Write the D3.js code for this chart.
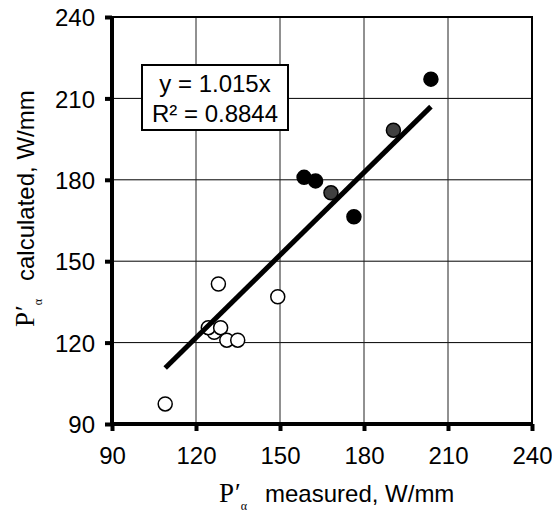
<!DOCTYPE html>
<html>
<head>
<meta charset="utf-8">
<script src="https://cdn.jsdelivr.net/npm/d3@7"></script>
<style>
  body { margin: 0; background: #fff; }
  svg { display: block; }
  .tick-text { font-family: Arial, "Liberation Sans", sans-serif; font-size: 24px; fill: #000; }
  .title-text { font-family: Arial, "Liberation Sans", sans-serif; font-size: 24px; fill: #000; }
  .serif-text { font-family: "Times New Roman", "Liberation Serif", serif; fill: #000; }
</style>
</head>
<body>
<svg id="chart" width="552" height="515"></svg>
<script>
// tick values for both axes
const xTicks = [90, 120, 150, 180, 210, 240];
const yTicks = [90, 120, 150, 180, 210, 240];

// open circles (measured, calculated)
const openPoints = [
    [126.5, 123.8],
    [109.0, 97.4],
    [124.4, 125.5],
    [128.8, 125.5],
    [131.0, 120.9],
    [134.9, 120.9],
    [128.0, 141.6],
    [149.2, 136.9]
];
// dark grey filled circles
const greyPoints = [
    [168.2, 175.2],
    [190.5, 198.3]
];
// black filled circles
const blackPoints = [
    [158.6, 180.9],
    [162.7, 179.6],
    [176.4, 166.4],
    [203.9, 217.1]
];

const slope = 1.015;
const eqLines = ["y = 1.015x", "R\u00b2 = 0.8844"];

function drawChart(svgId) {
    const svg = d3.select("#" + svgId);
    const margin = { left: 112, top: 17, right: 20, bottom: 91 };
    const width = 552 - margin.left - margin.right;
    const height = 515 - margin.top - margin.bottom;

    const x = d3.scaleLinear().domain([90, 240]).range([0, width]);
    const y = d3.scaleLinear().domain([90, 240]).range([height, 0]);

    const g = svg.append("g")
        .attr("transform", `translate(${margin.left},${margin.top})`);

    // grid
    g.selectAll(".hgrid")
        .data(yTicks.filter(d => d > 90 && d < 240))
        .enter().append("line")
        .attr("x1", 0).attr("x2", width)
        .attr("y1", d => y(d)).attr("y2", d => y(d))
        .attr("stroke", "#000").attr("stroke-width", 1);

    g.selectAll(".vgrid")
        .data(xTicks.filter(d => d > 90 && d < 240))
        .enter().append("line")
        .attr("x1", d => x(d)).attr("x2", d => x(d))
        .attr("y1", 0).attr("y2", height)
        .attr("stroke", "#222").attr("stroke-width", 1);

    // top and right border (thin)
    g.append("path")
        .attr("d", `M0,0H${width}V${height}`)
        .attr("fill", "none")
        .attr("stroke", "#000")
        .attr("stroke-width", 2);

    // axes
    const xAxis = g.append("g")
        .attr("transform", `translate(0,${height})`)
        .call(d3.axisBottom(x).tickValues(xTicks).tickSize(7).tickPadding(10));
    const yAxis = g.append("g")
        .call(d3.axisLeft(y).tickValues(yTicks).tickSize(7).tickPadding(10));

    [xAxis, yAxis].forEach(function(a) {
        a.select(".domain").remove();
        a.selectAll(".tick line").attr("stroke", "#000").attr("stroke-width", 4);
        a.selectAll(".tick text").attr("class", "tick-text").attr("font-size", null).attr("font-family", null);
    });
    xAxis.selectAll(".tick text").attr("dy", "0.95em");
    yAxis.selectAll(".tick text").attr("dy", "0.36em").attr("x", -17);

    g.append("line")
        .attr("x1", 0).attr("x2", width).attr("y1", height).attr("y2", height)
        .attr("stroke", "#000").attr("stroke-width", 4);
    g.append("line")
        .attr("x1", 0).attr("x2", 0).attr("y1", 0).attr("y2", height + 2)
        .attr("stroke", "#000").attr("stroke-width", 4);

    // points
    function drawPoints(data, fill) {
        g.append("g")
            .selectAll("circle")
            .data(data)
            .enter().append("circle")
            .attr("cx", d => x(d[0]))
            .attr("cy", d => y(d[1]))
            .attr("r", 7)
            .attr("fill", fill)
            .attr("stroke", "#000")
            .attr("stroke-width", 1.5);
    }
    drawPoints(openPoints, "#fff");
    drawPoints(greyPoints, "#404040");
    drawPoints(blackPoints, "#000");

    // trend line over the measured range
    const allX = openPoints.concat(greyPoints, blackPoints).map(d => d[0]);
    const xr = d3.extent(allX);
    g.append("line")
        .attr("x1", x(xr[0])).attr("y1", y(xr[0] * slope))
        .attr("x2", x(xr[1])).attr("y2", y(xr[1] * slope))
        .attr("stroke", "#000")
        .attr("stroke-width", 5);

    // equation box
    const box = svg.append("g").attr("transform", "translate(142,65)");
    box.append("rect")
        .attr("width", 146).attr("height", 65)
        .attr("fill", "#fff").attr("stroke", "#000").attr("stroke-width", 2);
    box.selectAll("text")
        .data(eqLines)
        .enter().append("text")
        .attr("class", "title-text")
        .attr("x", 73)
        .attr("y", (d, i) => 27 + i * 30)
        .attr("text-anchor", "middle")
        .text(d => d);

    // axis titles with P'α symbol
    function axisTitle(tx, ty, rot, label) {
        const t = svg.append("g")
            .attr("transform", `translate(${tx},${ty}) rotate(${rot})`);
        const sym = t.append("text").attr("class", "serif-text")
            .attr("x", 0).attr("y", 0);
        sym.append("tspan").attr("font-size", 27).text("P");
        sym.append("tspan").attr("font-size", 26).attr("dx", 1).attr("dy", -1).text("\u2032");
        sym.append("tspan").attr("font-size", 12).attr("dx", 0).attr("dy", 9).text("\u03b1");
        t.append("text").attr("class", "title-text")
            .attr("x", 46).attr("y", 0).text(label);
    }
    axisTitle(219, 502, 0, "measured, W/mm");
    axisTitle(34, 327, -90, "calculated, W/mm");
}

drawChart("chart");
</script>
</body>
</html>
